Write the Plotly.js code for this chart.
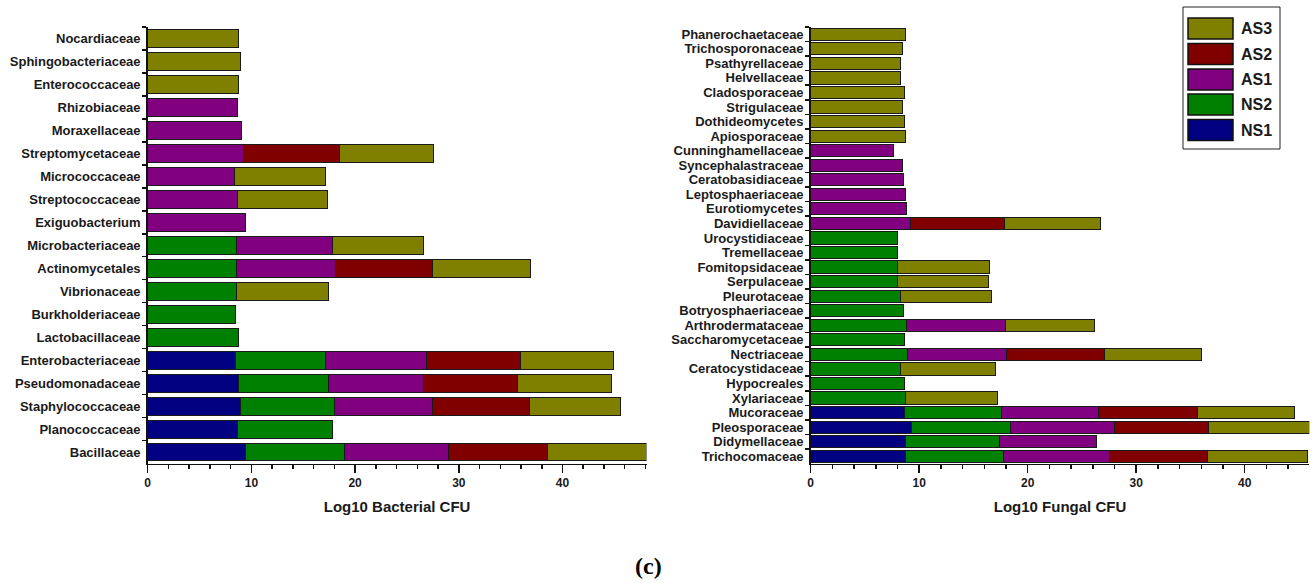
<!DOCTYPE html>
<html>
<head>
<meta charset="utf-8">
<script src="https://cdn.plot.ly/plotly-3.0.1.min.js"></script>
<style>html,body{margin:0;padding:0;background:#fff;}#chart{width:1316px;height:583px;}</style>
</head>
<body>
<div id="chart"></div>
<script>
// ---------- DATA ----------
const seriesNames = ["NS1", "NS2", "AS1", "AS2", "AS3"];
const seriesColors = ["#000080", "#008000", "#800080", "#800000", "#808000"];

// Bacterial families (top to bottom)
const bacteriaFamilies = ["Nocardiaceae","Sphingobacteriaceae","Enterococcaceae","Rhizobiaceae","Moraxellaceae",
  "Streptomycetaceae","Micrococcaceae","Streptococcaceae","Exiguobacterium","Microbacteriaceae",
  "Actinomycetales","Vibrionaceae","Burkholderiaceae","Lactobacillaceae","Enterobacteriaceae",
  "Pseudomonadaceae","Staphylococcaceae","Planococcaceae","Bacillaceae"];
const bacNS1 = [null,null,null,null,null,null,null,null,null,null,null,null,null,null,8.44,8.76,8.97,8.68,9.40];
const bacNS2 = [null,null,null,null,null,null,null,null,null,8.52,8.52,8.52,8.44,8.76,8.68,8.64,9.04,9.12,9.57];
const bacAS1 = [null,null,null,8.68,9.00,9.25,8.40,8.68,9.45,9.29,9.61,null,null,null,9.78,9.17,9.49,null,10.06];
const bacAS2 = [null,null,null,null,null,9.25,null,null,null,null,9.29,null,null,null,9.04,9.13,9.29,null,9.53];
const bacAS3 = [8.76,8.92,8.80,null,null,9.05,8.70,8.68,null,8.77,9.46,8.92,null,null,8.93,9.05,8.76,null,9.50];

// Fungal families (top to bottom)
const fungiFamilies = ["Phanerochaetaceae","Trichosporonaceae","Psathyrellaceae","Helvellaceae","Cladosporaceae",
  "Strigulaceae","Dothideomycetes","Apiosporaceae","Cunninghamellaceae","Syncephalastraceae",
  "Ceratobasidiaceae","Leptosphaeriaceae","Eurotiomycetes","Davidiellaceae","Urocystidiaceae",
  "Tremellaceae","Fomitopsidaceae","Serpulaceae","Pleurotaceae","Botryosphaeriaceae",
  "Arthrodermataceae","Saccharomycetaceae","Nectriaceae","Ceratocystidaceae","Hypocreales",
  "Xylariaceae","Mucoraceae","Pleosporaceae","Didymellaceae","Trichocomaceae"];
const funNS1 = [null,null,null,null,null,null,null,null,null,null,null,null,null,null,null,null,null,null,null,null,
  null,null,null,null,null,null,8.63,9.25,8.75,8.75];
const funNS2 = [null,null,null,null,null,null,null,null,null,null,null,null,null,null,8.02,8.02,8.02,8.02,8.32,8.52,
  8.86,8.63,8.94,8.32,8.63,8.75,8.94,9.17,8.67,9.05];
const funAS1 = [null,null,null,null,null,null,null,null,7.59,8.48,8.59,8.71,8.86,9.21,null,null,null,null,null,null,
  9.06,null,9.09,null,null,null,8.98,9.56,8.94,9.71];
const funAS2 = [null,null,null,null,null,null,null,null,null,null,null,null,null,8.67,null,null,null,null,null,null,
  null,null,9.02,null,null,null,9.10,8.71,null,9.10];
const funAS3 = [8.75,8.48,8.32,8.32,8.63,8.48,8.63,8.71,null,null,null,null,null,8.86,null,null,8.47,8.32,8.33,null,
  8.28,null,8.94,8.67,null,8.48,8.97,9.24,null,9.17];

const xTitleLeft = "Log10 Bacterial CFU";
const xTitleRight = "Log10 Fungal CFU";
const panelLabel = "(c)";

// ---------- BUILD ----------
const W = 1316, H = 583;
const px = v => v / W;
const py = v => 1 - v / H;

const bacSeries = [bacNS1, bacNS2, bacAS1, bacAS2, bacAS3];
const funSeries = [funNS1, funNS2, funAS1, funAS2, funAS3];
const traces = [];
seriesNames.forEach((name, i) => {
  traces.push({
    type: "bar", orientation: "h", name: name,
    y: bacteriaFamilies, x: bacSeries[i],
    xaxis: "x", yaxis: "y", width: 0.78,
    marker: {color: seriesColors[i], line: {color: "#1a1a1a", width: 1}},
    showlegend: false, hoverinfo: "x+y+name"
  });
  traces.push({
    type: "bar", orientation: "h", name: name,
    y: fungiFamilies, x: funSeries[i],
    xaxis: "x2", yaxis: "y2", width: 0.84,
    marker: {color: seriesColors[i], line: {color: "#1a1a1a", width: 1}},
    showlegend: false, hoverinfo: "x+y+name"
  });
});

const catFont = {family: "Liberation Sans, Arial, sans-serif", size: 13, color: "#1a1a1a", weight: "bold"};
const tickFont = {family: "Liberation Sans, Arial, sans-serif", size: 12, color: "#1a1a1a", weight: "bold"};
const titleFont = {family: "Liberation Sans, Arial, sans-serif", size: 15, color: "#1a1a1a", weight: "bold"};

function xaxisDef(domain, range, titleText, anchor) {
  return {
    domain: domain, range: range, anchor: anchor,
    showgrid: false, zeroline: false, showline: true, linecolor: "#111", linewidth: 1.5,
    ticks: "outside", ticklen: 8, tickwidth: 1.5, tickcolor: "#111", dtick: 10, tick0: 0,
    minor: {dtick: 2, ticks: "outside", ticklen: 4, tickwidth: 1.5, tickcolor: "#111"},
    tickfont: tickFont,
    title: {text: titleText, font: titleFont, standoff: 12},
    fixedrange: true
  };
}
function yaxisDef(n, anchor) {
  return {
    domain: [py(463.5), py(27)], anchor: anchor,
    type: "category", range: [n - 0.5, -0.5],
    tickmode: "linear", tick0: 0, dtick: 1,
    showgrid: false, zeroline: false, showline: true, linecolor: "#111", linewidth: 1.5,
    ticks: "outside", tickson: "boundaries", ticklen: 4, tickwidth: 1.5, tickcolor: "#111",
    ticklabelstandoff: 3,
    tickfont: catFont, automargin: false, fixedrange: true
  };
}

const shapes = [];
const annotations = [];
// legend box
shapes.push({type: "rect", xref: "paper", yref: "paper", x0: px(1183), x1: px(1280), y0: py(149), y1: py(7),
  line: {color: "#222", width: 1}, fillcolor: "#fff"});
const legendOrder = [4, 3, 2, 1, 0];
const legTops = [18, 43.5, 69, 94, 119.5];
legendOrder.forEach((si, k) => {
  const t = legTops[k];
  shapes.push({type: "rect", xref: "paper", yref: "paper", x0: px(1188), x1: px(1233), y0: py(t + 21), y1: py(t),
    line: {color: "#111", width: 1.5}, fillcolor: seriesColors[si]});
  annotations.push({xref: "paper", yref: "paper", x: px(1239), y: py(t + 10.5), xanchor: "left", yanchor: "middle",
    text: seriesNames[si], showarrow: false, font: {family: "Liberation Sans, Arial, sans-serif", size: 16, color: "#1a1a1a", weight: "bold"}});
});
annotations.push({xref: "paper", yref: "paper", x: px(648), y: py(566), xanchor: "center", yanchor: "middle",
  text: panelLabel, showarrow: false, font: {family: "Liberation Serif, Times New Roman, serif", size: 24, color: "#000", weight: "bold"}});

const layout = {
  width: W, height: H,
  margin: {l: 0, r: 0, t: 0, b: 0},
  paper_bgcolor: "#fff", plot_bgcolor: "rgba(0,0,0,0)",
  barmode: "stack",
  showlegend: false,
  xaxis: xaxisDef([px(147.7), px(646.5)], [0, 48.1], xTitleLeft, "y"),
  yaxis: yaxisDef(bacteriaFamilies.length, "x"),
  xaxis2: xaxisDef([px(810.7), px(1309.3)], [0, 45.95], xTitleRight, "y2"),
  yaxis2: yaxisDef(fungiFamilies.length, "x2"),
  shapes: shapes,
  annotations: annotations
};

Plotly.newPlot("chart", traces, layout, {displayModeBar: false, staticPlot: true});
</script>
</body>
</html>
